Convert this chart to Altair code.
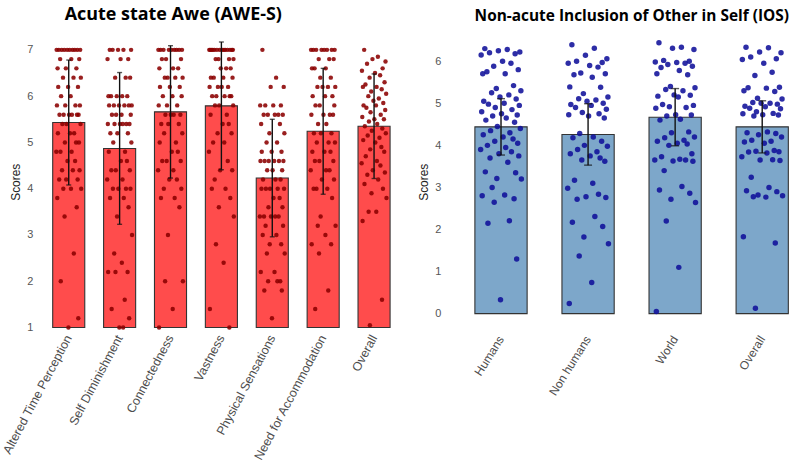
import altair as alt
import pandas as pd

# ---------------- data ----------------
awe_categories = ["Altered Time Perception", "Self Diminishment", "Connectedness",
                  "Vastness", "Physical Sensations", "Need for Accommodation", "Overall"]
awe_means = [5.43, 4.87, 5.66, 5.79, 4.23, 5.24, 5.35]
awe_sds = [1.35, 1.64, 1.43, 1.38, 1.27, 1.36, 1.13]

ios_categories = ["Humans", "Non humans", "World", "Overall"]
ios_means = [4.44, 4.26, 4.67, 4.44]
ios_sds = [0.67, 0.73, 0.68, 0.62]

# individual scores (value, count) for the AWE-S subscales
atp_scores = [(7.0, 10), (6.8, 3), (6.6, 3), (6.4, 3), (6.2, 3), (6.0, 2), (5.8, 4), (5.6, 6),
              (5.4, 3), (5.2, 3), (5.0, 3), (4.8, 3), (4.6, 2), (4.4, 3), (4.2, 3), (4.0, 3),
              (3.8, 1), (3.6, 1), (3.4, 1), (2.6, 1), (2.0, 1), (1.2, 1), (1.0, 1)]
sd_scores = [(7.0, 5), (6.8, 3), (6.4, 3), (6.0, 5), (5.8, 6), (5.6, 4), (5.4, 6), (5.2, 3),
             (5.0, 2), (4.8, 2), (4.6, 2), (4.4, 3), (4.2, 2), (4.0, 4), (3.8, 2), (3.6, 1),
             (3.4, 1), (3.0, 1), (2.6, 1), (2.4, 1), (2.2, 3), (1.6, 1), (1.4, 1), (1.2, 1), (1.0, 2)]
con_scores = [(7.0, 9), (6.8, 3), (6.6, 3), (6.4, 4), (6.2, 3), (6.0, 3), (5.8, 3), (5.6, 4),
              (5.4, 3), (5.2, 2), (5.0, 2), (4.8, 2), (4.6, 3), (4.4, 2), (4.2, 2), (4.0, 2),
              (3.8, 2), (3.6, 1), (3.0, 1), (2.0, 2), (1.4, 1), (1.0, 1)]
vas_scores = [(7.0, 14), (6.8, 4), (6.6, 3), (6.4, 4), (6.2, 4), (6.0, 5), (5.8, 3), (5.6, 2),
              (5.4, 2), (5.2, 2), (5.0, 2), (4.8, 1), (4.6, 1), (4.4, 2), (4.2, 1), (4.0, 2),
              (3.8, 1), (3.6, 1), (3.4, 1), (2.8, 1), (2.4, 1), (1.4, 1), (1.0, 1)]
phy_scores = [(7.0, 1), (6.4, 1), (6.2, 2), (5.8, 4), (5.6, 5), (5.4, 2), (5.2, 2), (5.0, 2),
              (4.8, 3), (4.6, 6), (4.4, 3), (4.2, 3), (4.0, 5), (3.8, 2), (3.6, 2), (3.4, 5),
              (3.2, 2), (3.0, 2), (2.8, 2), (2.6, 2), (2.2, 2), (2.0, 3), (1.8, 2), (1.2, 1)]
nfa_scores = [(7.0, 8), (6.8, 3), (6.6, 3), (6.4, 2), (6.2, 4), (6.0, 3), (5.8, 3), (5.6, 4),
              (5.4, 2), (5.2, 3), (5.0, 3), (4.8, 3), (4.6, 3), (4.4, 3), (4.2, 2), (4.0, 3),
              (3.8, 1), (3.4, 1), (3.2, 2), (3.0, 1), (2.8, 2), (2.6, 1), (1.8, 1), (1.4, 1)]
awe_overall_scores = [7.0, 6.85, 6.8, 6.75, 6.7, 6.6, 6.55, 6.5, 6.45, 6.4, 6.3, 6.25, 6.2, 6.2,
                      6.15, 6.1, 6.05, 6.0, 5.95, 5.9, 5.85, 5.8, 5.8, 5.75, 5.7, 5.65, 5.6, 5.55,
                      5.5, 5.5, 5.45, 5.4, 5.35, 5.3, 5.25, 5.2, 5.15, 5.1, 5.05, 5.0, 4.9, 4.85,
                      4.8, 4.7, 4.6, 4.55, 4.5, 4.4, 4.35, 4.3, 4.2, 4.1, 4.0, 3.9, 3.8, 3.5, 3.5,
                      3.3, 1.6, 1.05]

humans_scores = [6.3, 6.28, 6.25, 6.22, 6.2, 6.18, 6.15, 6.0, 5.95, 5.88, 5.8, 5.75, 5.7, 5.7,
                 5.42, 5.35, 5.3, 5.25, 5.2, 5.15, 5.1, 5.05, 5.0, 4.98, 4.95, 4.9, 4.85, 4.8,
                 4.75, 4.72, 4.7, 4.65, 4.6, 4.55, 4.45, 4.4, 4.35, 4.3, 4.25, 4.2, 4.15, 4.1,
                 4.05, 4.0, 3.95, 3.9, 3.85, 3.8, 3.75, 3.7, 3.6, 3.37, 3.35, 3.21, 3.2, 3.0,
                 2.82, 2.8, 2.73, 2.65, 2.21, 2.15, 1.3, 0.33]
nonhumans_scores = [6.39, 6.31, 6.14, 6.06, 6.0, 5.97, 5.95, 5.9, 5.86, 5.72, 5.7, 5.68, 5.62,
                    5.39, 5.38, 5.23, 5.15, 5.11, 5.08, 5.05, 5.0, 4.97, 4.95, 4.9, 4.86, 4.78,
                    4.75, 4.73, 4.7, 4.65, 4.28, 4.2, 4.18, 4.1, 4.0, 3.98, 3.9, 3.85, 3.8, 3.75,
                    3.7, 3.65, 3.62, 3.17, 3.1, 2.98, 2.84, 2.78, 2.76, 2.72, 2.31, 2.17, 2.07,
                    1.82, 1.66, 1.37, 0.74, 0.24]
world_scores = [6.44, 6.33, 6.31, 6.28, 6.02, 6.0, 5.98, 5.97, 5.95, 5.92, 5.88, 5.85, 5.78, 5.7,
                5.68, 5.4, 5.37, 5.33, 5.3, 5.2, 5.19, 5.17, 5.15, 4.97, 4.95, 4.92, 4.9, 4.88,
                4.73, 4.72, 4.7, 4.62, 4.6, 4.32, 4.3, 4.2, 4.18, 4.12, 4.1, 4.05, 4.03, 4.0,
                3.8, 3.73, 3.67, 3.65, 3.65, 3.63, 3.62, 3.4, 3.02, 2.94, 2.86, 2.72, 2.64, 2.2,
                1.1, 0.05]
ios_overall_scores = [6.33, 6.32, 6.22, 6.2, 6.1, 6.06, 6.04, 5.95, 5.74, 5.66, 5.38, 5.37, 5.36,
                      5.3, 5.28, 5.12, 5.1, 5.02, 5.0, 5.0, 4.98, 4.93, 4.92, 4.88, 4.87, 4.8,
                      4.76, 4.75, 4.73, 4.72, 4.7, 4.32, 4.3, 4.28, 4.25, 4.2, 4.12, 4.1, 4.08,
                      4.05, 3.88, 3.86, 3.85, 3.84, 3.82, 3.73, 3.66, 3.65, 3.64, 3.24, 3.0, 2.92,
                      2.9, 2.82, 2.8, 2.78, 2.77, 1.83, 1.68, 0.13]

# horizontal jitter (fraction of bar width), reused by point order
jitter = [-0.31, 0.12, -0.05, 0.36, -0.22, 0.27, -0.38, 0.03, 0.19, -0.14,
          0.33, -0.27, 0.08, -0.35, 0.24, -0.09, 0.38, -0.18, 0.15, -0.02,
          0.29, -0.33, 0.06, -0.24, 0.35, -0.11, 0.21, -0.37, 0.01, 0.31,
          -0.16, 0.1, -0.29, 0.26, -0.07, 0.37, -0.2, 0.17, -0.34, 0.04,
          0.23, -0.12, 0.32, -0.26, 0.09, -0.39, 0.2, -0.04, 0.34, -0.21,
          0.13, -0.3, 0.28, -0.08, 0.39, -0.17, 0.07, -0.36, 0.25, -0.13,
          0.16, -0.25, 0.3, -0.01, 0.11, -0.32]


def expand(pairs):
    out = []
    for v, n in pairs:
        out.extend([v] * n)
    return out


awe_points = {
    "Altered Time Perception": expand(atp_scores),
    "Self Diminishment": expand(sd_scores),
    "Connectedness": expand(con_scores),
    "Vastness": expand(vas_scores),
    "Physical Sensations": expand(phy_scores),
    "Need for Accommodation": expand(nfa_scores),
    "Overall": awe_overall_scores,
}
ios_points = {
    "Humans": humans_scores,
    "Non humans": nonhumans_scores,
    "World": world_scores,
    "Overall": ios_overall_scores,
}


def points_df(d):
    rows = []
    for cat, vals in d.items():
        for i, v in enumerate(vals):
            rows.append({"category": cat, "value": v, "jitter": jitter[i % len(jitter)]})
    return pd.DataFrame(rows)


def summary_df(cats, means, sds):
    return pd.DataFrame({"category": cats, "mean": means,
                         "lo": [m - s for m, s in zip(means, sds)],
                         "hi": [m + s for m, s in zip(means, sds)]})


awe_pts = points_df(awe_points)
ios_pts = points_df(ios_points)
awe_sum = summary_df(awe_categories, awe_means, awe_sds)
ios_sum = summary_df(ios_categories, ios_means, ios_sds)

LABEL_FONT = "Liberation Sans"


def panel(summary, pts, cats, xscale, ydomain, yticks, base, bar_fill, pt_color, pt_size,
          cap, title, title_dx, title_size, width, bar_px, x_label_pad, x_angle, x_font):
    xaxis = alt.Axis(labelAngle=x_angle, labelAlign="right", labelBaseline="middle",
                     labelFontSize=x_font, labelColor="#4d4d4d", labelFont=LABEL_FONT,
                     labelPadding=x_label_pad, domain=False, ticks=False, grid=False,
                     labelLimit=300)
    xenc = alt.X("category:N", sort=cats, scale=xscale, title=None, axis=xaxis)
    xplain = alt.X("category:N", sort=cats)
    yscale = alt.Scale(domain=ydomain, nice=False, zero=False)
    yaxis = alt.Axis(values=yticks, title="Scores", titleFontSize=12, titleFontWeight="normal",
                     titleColor="#222222", titleFont=LABEL_FONT, titlePadding=4,
                     labelFontSize=11, labelColor="#555555", labelFont=LABEL_FONT,
                     labelPadding=8, domain=False, ticks=False, grid=False)
    b = alt.Chart(summary)
    bars = b.mark_bar(fill=bar_fill, stroke="#333333", strokeWidth=1.1).encode(
        x=xenc, y=alt.Y("mean:Q", scale=yscale, axis=yaxis), y2=alt.datum(base))
    dots = alt.Chart(pts).mark_circle(
        size=pt_size, color=pt_color, opacity=0.88,
        xOffset=alt.expr(f"datum.jitter * {bar_px}")
    ).encode(x=xplain, y=alt.Y("value:Q"))
    rule = b.mark_rule(color="#111111", strokeWidth=1.4).encode(
        x=xplain, y="lo:Q", y2="hi:Q")
    cap_hi = b.mark_tick(color="#111111", thickness=1.4, size=cap).encode(x=xplain, y="hi:Q")
    cap_lo = b.mark_tick(color="#111111", thickness=1.4, size=cap).encode(x=xplain, y="lo:Q")
    return alt.layer(bars, dots, rule, cap_hi, cap_lo).properties(
        width=width, height=293,
        title=alt.TitleParams(title, anchor="start", frame="group", dx=title_dx, offset=12,
                              fontSize=title_size, font="Open Sans", fontWeight="bold",
                              color="#000000"))


left = panel(awe_sum, awe_pts, awe_categories,
             alt.Scale(paddingInner=0.37, paddingOuter=0.234),
             [1, 7.3], [1, 2, 3, 4, 5, 6, 7], 1, "#FF4C4C", "#8B0000", 20, 5,
             "Acute state Awe (AWE-S)", 24, 18, 363, 32, 8, -62, 12.5)
right = panel(ios_sum, ios_pts, ios_categories,
              alt.Scale(paddingInner=0.4, paddingOuter=0.2114, align=0.71),
              [-0.33, 6.6], [0, 1, 2, 3, 4, 5, 6], 0, "#7DA7CA", "#10109A", 30, 8,
              "Non-acute Inclusion of Other in Self (IOS)", 26, 15.5, 352, 52.5, 9, -58, 12)

chart = alt.hconcat(left, right, spacing=15).resolve_scale(
    x="independent", y="independent").properties(
    padding={"left": 0, "top": 5, "right": 0, "bottom": 0},
    background="white"
).configure_view(stroke="transparent", strokeWidth=0)

chart.save("out.html", embed_options={"renderer": "svg", "actions": False})
